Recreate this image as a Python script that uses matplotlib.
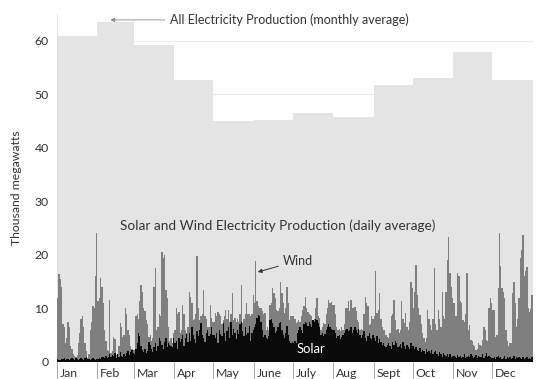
import numpy as np
import matplotlib
matplotlib.use("Agg")
import matplotlib.pyplot as plt
import matplotlib.transforms as mtransforms

plt.rcParams['font.family'] = ['Lato', 'DejaVu Sans']

# monthly average of all electricity production (thousand MW)
months = ['Jan', 'Feb', 'Mar', 'Apr', 'May', 'June',
          'July', 'Aug', 'Sept', 'Oct', 'Nov', 'Dec']
month_days = [31, 28, 31, 30, 31, 30, 31, 31, 30, 31, 30, 31]
all_monthly = [60.9, 63.6, 59.3, 52.6, 45.0, 45.2,
               46.5, 45.7, 51.8, 53.1, 57.9, 52.7]

# daily average, solar + wind (top of grey bars)
solar_wind_jan = [12, 16.5, 15.5, 14, 7, 6.5, 3.5, 4.5, 7.5, 6.5, 3, 2.5, 1.5, 1.2, 1.0, 1.3,
                  3.5, 5.5, 8, 8.5, 6.5, 3.5, 2, 0.8, 1.5, 6, 7.5, 10.5, 10, 16, 24]
solar_wind_feb = [11.3, 12, 15.6, 14, 11, 6, 4, 2.2, 2, 11.6, 1.6, 2, 4.7, 4.2, 1.3, 1.5,
                  3, 7.2, 6.5, 4.7, 5, 10, 9, 6, 5, 2.9, 2.5, 2.2]
solar_wind_mar = [2.2, 8.5, 9, 8, 11.3, 14.4, 13, 10, 9.5, 7.9, 7, 4.7, 5, 4, 4.5, 14,
                  17.5, 6, 6.5, 9, 8.5, 20.6, 19.5, 20, 13.5, 12, 6.6, 4, 4.5, 3.5, 5.4]
solar_wind_apr = [6, 10, 9, 9.4, 5.4, 6, 10.7, 9, 6, 5.5, 6.5, 13.1, 12.2, 11, 7.9, 8,
                  9, 19.7, 10, 7.9, 8.5, 9, 13.5, 8.5, 8, 6.5, 6.5, 10.7, 8.2, 7.5]
solar_wind_may = [7.5, 9.1, 8.5, 9.4, 9, 8.5, 7, 7.9, 8.5, 9.7, 8, 9.7, 7.5, 9, 12.8, 7.9,
                  8.2, 7.5, 8, 7.5, 9, 14.4, 7.2, 8, 9, 11, 9, 9, 8.5, 9, 12.5]
solar_wind_jun = [11, 18.8, 11.3, 10.5, 10, 10, 9.5, 9, 9.1, 6, 6.5, 6, 10.7, 11, 13.8,
                  12.8, 12, 9.7, 9.5, 10, 15, 12.8, 11, 9.1, 10, 14, 11, 7.9, 8.5, 8.5]
solar_wind_jul = [8.5, 8, 7.2, 7.5, 7.9, 7.5, 8.5, 9.7, 10.5, 12.2, 10, 9.4, 9, 8.8, 8.5,
                  7.9, 8, 10, 12, 8.5, 8.2, 6, 6.5, 7.2, 7, 9, 10, 11.6, 11, 11.2, 10.7]
solar_wind_aug = [10.7, 9, 6.5, 6, 6.2, 5.8, 6.5, 6, 7, 10, 10, 11.3, 9.5, 11.6, 10, 10,
                  10.3, 9.5, 7.9, 7.5, 6, 6.2, 6, 9, 12.2, 11, 10.5, 6.9, 7, 8.5, 8]
solar_wind_sep = [8.5, 16.9, 9.1, 9.7, 12.8, 8, 6.6, 6, 6, 5, 4.7, 4.5, 5.5, 8.5, 9,
                  11.6, 7.9, 6, 6.2, 5.5, 6, 11.3, 8, 7.2, 9.1, 6.6, 6, 7.5, 15, 13.8]
solar_wind_oct = [10, 13, 18.1, 12.5, 10, 8.8, 7, 5.4, 4.5, 3.8, 4.5, 9.7, 8, 6.9, 6, 8,
                  17.5, 7, 6, 9.7, 8, 6.5, 13.1, 8.5, 8, 13.1, 19, 23.4, 16.6, 14, 11.9]
solar_wind_nov = [11, 8.5, 8.5, 16.6, 16, 11.3, 11, 7.9, 7.5, 9, 16.6, 6, 6.9, 4.1, 4,
                  3.2, 3, 2.2, 2.5, 3.5, 3.2, 3, 4.1, 6.6, 6, 4.1, 4, 10, 11.9, 11]
solar_wind_dec = [9.7, 9.7, 4.7, 5, 13.8, 24, 18, 13.8, 13.1, 12, 6, 4, 2.9, 3.5, 3.5,
                  12.8, 15, 11, 6.6, 8, 11.9, 19.4, 21, 23.7, 16, 17, 17.8, 10, 9.4, 9.8, 12.5]

# daily average, solar only (black bars)
solar_jan = [0.5, 0.4, 0.3, 0.6, 0.5, 0.7, 0.4, 0.5, 0.6, 0.3, 0.5, 0.8, 0.6, 0.4, 0.7, 0.5,
             0.3, 0.6, 0.8, 0.5, 0.4, 0.7, 0.9, 0.6, 0.5, 0.4, 0.6, 0.8, 0.5, 0.4, 0.6]
solar_feb = [0.6, 0.8, 0.5, 0.9, 1.0, 0.7, 1.2, 0.8, 1.0, 1.5, 0.9, 1.3, 1.1, 1.6, 0.8, 1.4,
             1.0, 1.8, 1.2, 0.9, 1.5, 1.1, 1.7, 2.0, 1.3, 1.8, 2.2, 1.6]
solar_mar = [1.5, 2.5, 3.5, 5.5, 4.8, 3.0, 2.2, 1.8, 2.5, 1.6, 2.0, 3.8, 3.2, 2.4, 1.8, 2.8,
             3.5, 2.0, 3.0, 4.4, 4.0, 3.2, 2.5, 3.8, 4.5, 2.8, 3.5, 3.2, 3.0, 2.8, 4.5]
solar_apr = [3.5, 4.0, 2.5, 4.5, 3.8, 4.2, 5.0, 3.0, 4.5, 5.2, 3.8, 5.5, 4.0, 6.6, 5.0,
             4.2, 3.5, 5.8, 4.8, 6.0, 7.2, 5.0, 4.5, 3.8, 5.5, 6.0, 4.8, 5.2, 6.5, 5.0]
solar_may = [5.0, 4.5, 5.5, 3.5, 6.0, 5.2, 4.8, 7.2, 5.5, 4.0, 5.8, 6.5, 4.5, 7.5, 5.0, 6.2,
             5.5, 4.2, 6.0, 5.2, 7.0, 7.5, 5.8, 4.8, 6.5, 5.0, 5.5, 6.8, 4.0, 5.5, 6.0]
solar_jun = [6.6, 7.0, 8.2, 8.8, 8.5, 7.5, 6.0, 4.7, 5.0, 4.5, 4.2, 4.8, 7.8, 8.0, 7.2,
             6.5, 5.5, 5.8, 6.5, 7.2, 7.5, 6.0, 5.0, 4.5, 5.5, 6.8, 5.0, 4.0, 3.5, 3.8]
solar_jul = [3.5, 4.0, 3.5, 5.5, 6.0, 6.5, 6.0, 5.5, 7.0, 7.5, 7.2, 6.8, 7.5, 7.0, 6.5, 7.8,
             7.5, 8.0, 7.9, 7.2, 6.5, 5.0, 5.5, 4.8, 5.2, 6.0, 6.6, 7.0, 6.5, 6.2, 6.0]
solar_aug = [6.0, 5.5, 4.5, 4.8, 5.0, 4.2, 4.6, 5.0, 5.5, 6.0, 6.2, 5.8, 6.0, 6.5, 5.5, 6.0,
             6.6, 6.0, 5.5, 6.2, 5.0, 4.5, 5.0, 5.8, 4.5, 4.0, 4.8, 5.4, 4.5, 4.2, 5.0]
solar_sep = [4.5, 4.0, 4.8, 3.5, 4.2, 3.8, 3.2, 3.5, 3.0, 2.8, 3.2, 3.6, 3.0, 2.5, 3.8,
             3.2, 4.0, 3.5, 2.8, 3.0, 3.4, 2.6, 3.8, 3.0, 2.5, 3.2, 2.8, 2.4, 3.6, 3.0]
solar_oct = [3.0, 2.5, 2.8, 2.2, 2.0, 2.6, 1.8, 2.2, 2.0, 1.5, 2.4, 1.8, 2.0, 1.6, 2.2, 1.4,
             1.8, 2.0, 1.5, 1.2, 1.8, 1.4, 1.0, 1.6, 1.3, 1.2, 1.5, 1.0, 1.4, 0.9, 1.2]
solar_nov = [1.2, 1.0, 0.8, 1.3, 0.9, 1.1, 0.7, 1.0, 1.4, 0.8, 1.0, 1.2, 0.9, 1.5, 1.1,
             0.8, 1.0, 1.3, 0.7, 1.2, 1.0, 0.9, 1.4, 0.8, 1.1, 1.6, 0.9, 1.2, 1.0, 0.8]
solar_dec = [0.8, 1.0, 0.6, 0.9, 1.2, 0.7, 1.0, 0.5, 0.8, 1.1, 0.6, 0.9, 0.7, 1.0, 0.5, 0.8,
             1.2, 0.6, 0.9, 0.7, 1.0, 0.8, 0.6, 0.9, 0.5, 0.7, 1.0, 0.6, 0.8, 0.5, 0.9]

solar_wind = np.concatenate([solar_wind_jan, solar_wind_feb, solar_wind_mar, solar_wind_apr,
                             solar_wind_may, solar_wind_jun, solar_wind_jul, solar_wind_aug,
                             solar_wind_sep, solar_wind_oct, solar_wind_nov, solar_wind_dec])
solar = np.concatenate([solar_jan, solar_feb, solar_mar, solar_apr, solar_may, solar_jun,
                        solar_jul, solar_aug, solar_sep, solar_oct, solar_nov, solar_dec])

month_edges = np.concatenate([[0], np.cumsum(month_days)])
day_edges = np.arange(len(solar_wind) + 1)

text_col = '#333333'

fig = plt.figure(figsize=(5.4, 3.79), dpi=100)
ax = fig.add_axes([0.1056, 0.045, 0.881, 0.918])

# monthly average (light grey background steps)
ax.stairs(all_monthly, month_edges, fill=True, color='#e4e4e4', zorder=2)
# daily solar+wind and solar
ax.stairs(solar_wind, day_edges, fill=True, color='#7f7f7f', zorder=3)
ax.stairs(solar, day_edges, fill=True, color='#0a0a0a', zorder=4)

ax.set_xlim(0, 365)
ax.set_ylim(0, 65)
ax.set_yticks(range(0, 61, 10))
ax.yaxis.grid(True, color='#ebebeb', linewidth=0.8, zorder=0)
ax.set_axisbelow(True)
ax.tick_params(axis='y', length=0, labelsize=8.8, labelcolor=text_col, pad=6)

ax.set_xticks(month_edges[:-1])
ax.set_xticklabels([])
ax.tick_params(axis='x', length=13, width=0.6, color='#999999', direction='out')
trans = mtransforms.blended_transform_factory(ax.transData, ax.transAxes)
for start, name in zip(month_edges[:-1], months):
    ax.text(start + 2, -0.018, name, transform=trans, ha='left', va='top',
            fontsize=8.8, color=text_col)

for side in ['top', 'right', 'bottom']:
    ax.spines[side].set_visible(False)
ax.spines['left'].set_color('#dddddd')
ax.spines['left'].set_linewidth(0.6)

ax.set_ylabel('Thousand megawatts', fontsize=8.8, color=text_col, labelpad=9)

ax.annotate('All Electricity Production (monthly average)', xy=(41, 63.9), xytext=(87, 63.9),
            fontsize=9, color=text_col, va='center', ha='left',
            arrowprops=dict(arrowstyle='-|>', color='#888888', lw=0.6,
                            mutation_scale=6, shrinkA=2, shrinkB=0))
ax.text(169, 25.5, 'Solar and Wind Electricity Production (daily average)',
        fontsize=9.8, color=text_col, ha='center', va='center', zorder=6)
ax.annotate('Wind', xy=(154, 16.8), xytext=(173, 18.9), fontsize=9, color=text_col,
            va='center', ha='left', zorder=6,
            arrowprops=dict(arrowstyle='-|>', color='#333333', lw=0.7,
                            mutation_scale=6, shrinkA=1, shrinkB=0))
ax.text(184, 2.4, 'Solar', fontsize=9.4, color='white', ha='left', va='center', zorder=6)

fig.savefig('out.png', dpi=100)
